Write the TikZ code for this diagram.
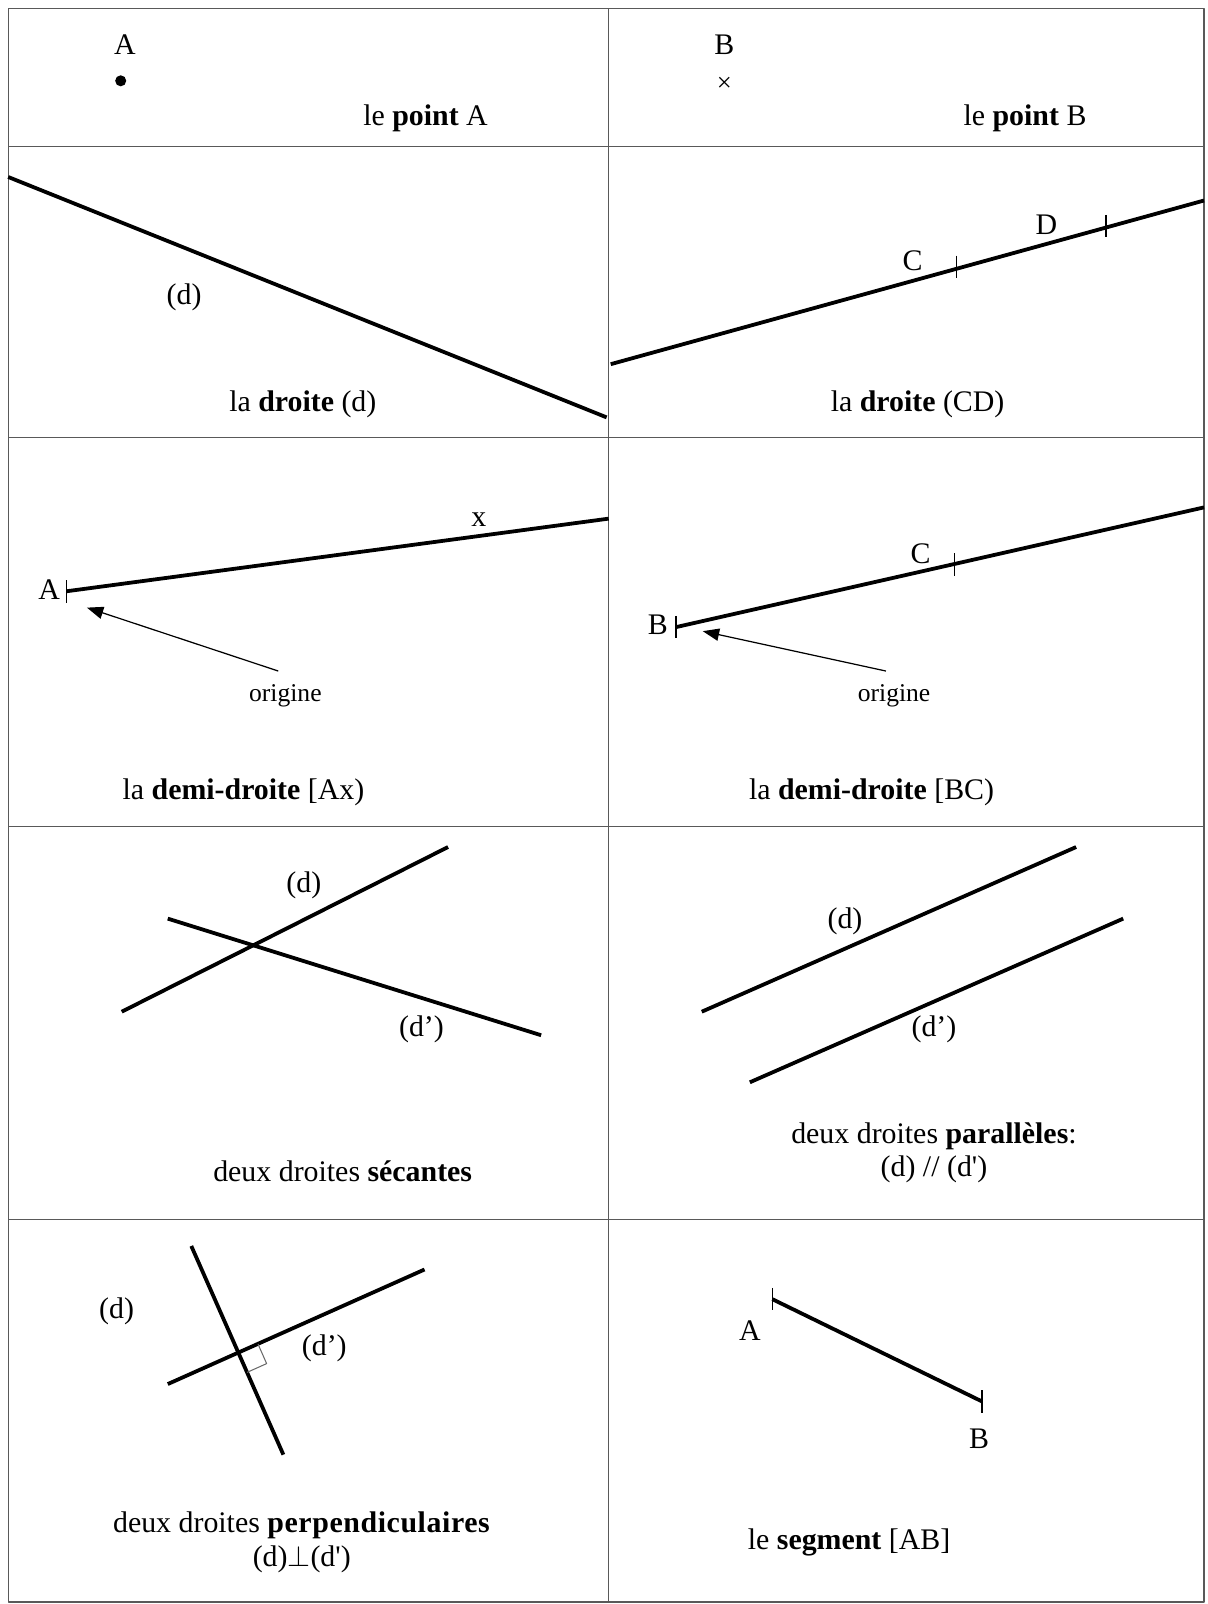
\documentclass[tikz,border=0pt]{standalone}
\usepackage{fontspec}
\setmainfont{Liberation Serif}
\newfontfamily\droit{Liberation Serif}
\usetikzlibrary{calc,arrows.meta}

\begin{document}
\begin{tikzpicture}[x=0.5pt,y=-0.5pt,>={Triangle[length=8pt,width=6pt]}, line join=round, font=\fontsize{14.6}{17}\selectfont]
	\tikzset{
		trait/.style={line width=1.85pt},
		tiret/.style={line width=0.8pt},
		fleche/.style={->,line width=0.6pt},
		cadre/.style={line width=0.6pt, black!65},
		petit/.style={font=\fontsize{12.5}{15}\selectfont}
	}
	\newcommand\marque[1]{\draw[tiret] ($(#1)+(0,-11)$) -- ($(#1)+(0,11)$);}
	\def\xg{8} \def\xm{595} \def\xd{1177}
	\useasboundingbox (0,0) rectangle (1180,1568);
	
	% [Cadre du tableau]
	\draw[cadre] (\xg,8) rectangle (\xd,1566);
	\draw[cadre] (\xm,8) -- (\xm,1566);
	\foreach \y in {143,428,808,1192} \draw[cadre] (\xg,\y) -- (\xd,\y);
	
	% [Ligne 1 : les points]
	\node (nA) at (122,44) {A};
	\fill (118,79) circle (2.7pt);
	\node (tA) at (416,116) {le \textbf{point} A};
	\node (nB) at (708,44) {B};
	\node[font=\fontsize{13}{13}\selectfont] (xB) at (708,82) {×};
	\node (tB) at (1002,116) {le \textbf{point} B};
	
	% [Ligne 2 : les droites]
	\coordinate (d1) at (8,173); \coordinate (d2) at (593,408);
	\draw[trait] (d1) -- (d2);
	\node (ld) at (180,291) {(d)};
	\node (td) at (296,395) {la \textbf{droite} (d)};
	\coordinate (e1) at (597,356); \coordinate (e2) at (1177,196);
	\draw[trait] (e1) -- (e2);
	\coordinate (C) at (935,261); \coordinate (D) at (1081,221);
	\marque{C} \marque{D}
	\node (lC) at (892,255) {C};
	\node (lD) at (1023,220) {D};
	\node (tCD) at (897,395) {la \textbf{droite} (CD)};
	
	% [Ligne 3 : les demi-droites]
	\coordinate (A) at (65,578); \coordinate (x) at (595,507);
	\draw[trait] (A) -- (x);
	\marque{A}
	\node (lA) at (48,576) {A};
	\node (lx) at (468,508) {x};
	\node[petit] (oA) at (279,680) {origine};
	\coordinate (pA) at (85,594);
	\draw[fleche] ($(oA.north)+(-7,-6)$) -- (pA);
	\node (tAx) at (238,775) {la \textbf{demi-droite} [Ax)};
	\coordinate (B) at (661,613); \coordinate (f2) at (1177,496);
	\draw[trait] (B) -- (f2);
	\coordinate (C2) at (933,552);
	\marque{B} \marque{C2}
	\node (lB) at (643,611) {B};
	\node (lC2) at (900,541) {C};
	\node[petit] (oB) at (874,680) {origine};
	\coordinate (pB) at (687,617);
	\draw[fleche] ($(oB.north)+(-8,-6)$) -- (pB);
	\node (tBC) at (852,775) {la \textbf{demi-droite} [BC)};
	
	% [Ligne 4 : sécantes et parallèles]
	\coordinate (s1) at (119,989); \coordinate (s2) at (438,828);
	\coordinate (s3) at (164,898); \coordinate (s4) at (529,1012);
	\draw[trait] (s1) -- (s2);
	\draw[trait] (s3) -- (s4);
	\node (ls1) at (297,865) {(d)};
	\node (ls2) at (412,1006) {(d’)};
	\node (tsec) at (335,1145) {deux droites \textbf{sécantes}};
	\coordinate (p1) at (686,989); \coordinate (p2) at (1052,828);
	\coordinate (p3) at (733,1058); \coordinate (p4) at (1098,898);
	\draw[trait] (p1) -- (p2);
	\draw[trait] (p3) -- (p4);
	\node (lp1) at (826,901) {(d)};
	\node (lp2) at (913,1006) {(d’)};
	\node (tpar) at (913,1111) {deux droites \textbf{parallèles}:};
	\node (tpar2) at (913,1143) {(d) // (d{\droit'})};
	
	% [Ligne 5 : perpendiculaires et segment]
	\coordinate (q1) at (164,1353); \coordinate (q2) at (415,1241);
	\coordinate (q3) at (187,1218); \coordinate (q4) at (277,1422);
	\draw[trait] (q1) -- (q2);
	\draw[trait] (q3) -- (q4);
	\coordinate (I) at (intersection of q1--q2 and q3--q4);
	\coordinate (r1) at ($(I)!10.5pt!(q2)$);
	\coordinate (r2) at ($(I)!10.5pt!(q4)$);
	\draw[line width=0.5pt, black!60] (r1) -- ($(r1)+(r2)-(I)$) -- (r2);
	\node (lq1) at (114,1282) {(d)};
	\node (lq2) at (317,1318) {(d’)};
	\node (tper) at (295,1491) {deux droites \textbf{\addfontfeature{LetterSpace=2}perpendiculaires}};
	\node (tper2) at (295,1524) {(d)$\perp$(d{\droit'})};
	\coordinate (SA) at (755,1270); \coordinate (SB) at (960,1370);
	\draw[trait] (SA) -- (SB);
	\marque{SA} \marque{SB}
	\node (lSA) at (733,1301) {A};
	\node (lSB) at (957,1406) {B};
	\node (tseg) at (830,1508) {le \textbf{segment} [AB]};
\end{tikzpicture}
\end{document}
